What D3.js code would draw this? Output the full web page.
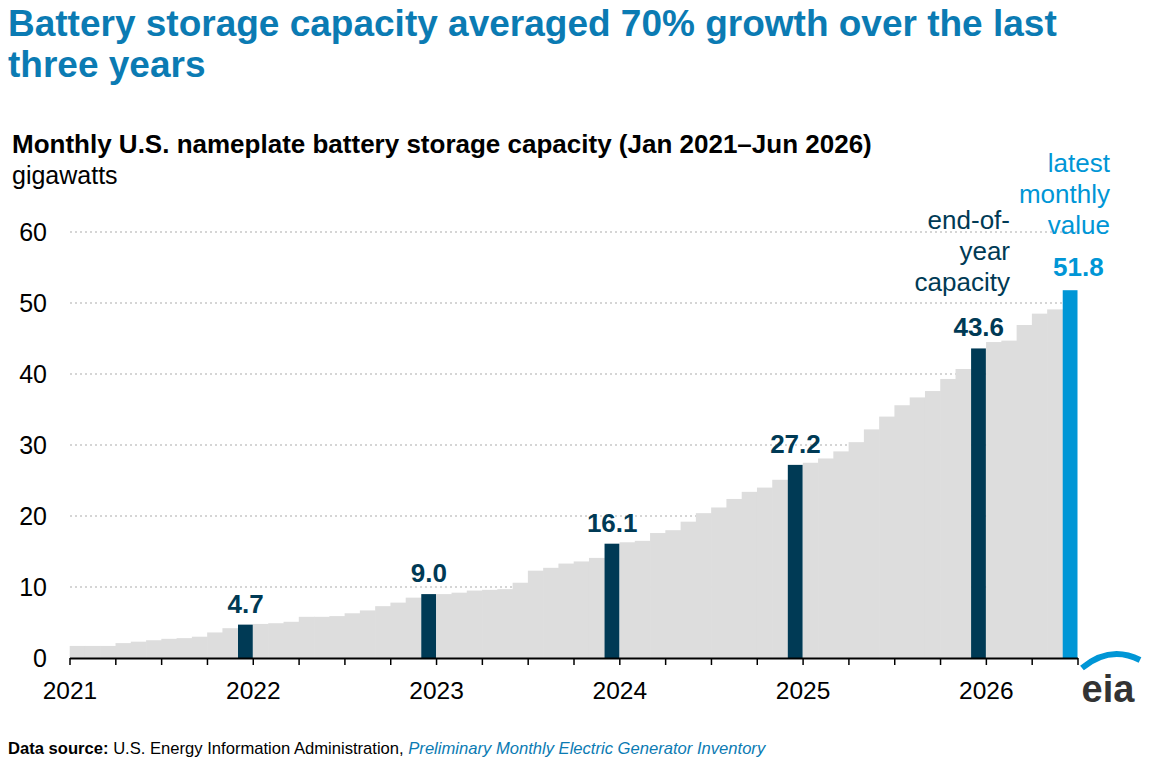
<!DOCTYPE html>
<html><head><meta charset="utf-8">
<script src="https://cdn.jsdelivr.net/npm/d3@7"></script>
<style>body{margin:0;background:#fff}text{font-family:"Liberation Sans",Arial,sans-serif}</style>
</head><body><svg id="c" width="1157" height="771"></svg>
<script>
const yearLabels=["2021","2022","2023","2024","2025","2026"];
const values2021=[1.7,1.7,1.7,2.1,2.3,2.5,2.7,2.8,3.0,3.6,4.2,4.7];
const values2022=[4.8,4.9,5.1,5.8,5.8,5.9,6.3,6.7,7.3,7.8,8.5,9.0];
const values2023=[9.0,9.2,9.5,9.6,9.7,10.6,12.3,12.7,13.3,13.6,14.1,16.1];
const values2024=[16.3,16.5,17.6,18.0,19.2,20.4,21.2,22.4,23.4,24.0,25.1,27.2];
const values2025=[27.5,28.1,29.1,30.4,32.2,34.0,35.6,36.7,37.6,39.3,40.7,43.6];
const values2026=[44.5,44.7,46.9,48.5,49.1,51.8];
const yTicks=[0,10,20,30,40,50,60];
const values=[...values2021,...values2022,...values2023,...values2024,...values2025,...values2026];
const data=values.map((v,i)=>({i,v,m:i%12}));
const svg=d3.select("#c");
const x=d3.scaleLinear().domain([0,66]).range([70,1078]);
const y=d3.scaleLinear().domain([0,60]).range([658,232]);
svg.append("text").attr("x",8).attr("y",36).attr("font-size",37).attr("font-weight","bold").attr("fill","#0b7bb3").text("Battery storage capacity averaged 70% growth over the last");
svg.append("text").attr("x",8).attr("y",77).attr("font-size",37).attr("font-weight","bold").attr("fill","#0b7bb3").text("three years");
svg.append("text").attr("x",12).attr("y",153).attr("font-size",26).attr("font-weight","bold").attr("fill","#000").text("Monthly U.S. nameplate battery storage capacity (Jan 2021\u2013Jun 2026)");
svg.append("text").attr("x",12).attr("y",184).attr("font-size",25).attr("fill","#000").text("gigawatts");
svg.append("g").selectAll("line").data(yTicks.filter(d=>d>0)).join("line")
 .attr("x1",70).attr("x2",1078).attr("y1",d=>y(d)).attr("y2",d=>y(d))
 .attr("stroke","#c8c8c8").attr("stroke-dasharray","2,3").attr("stroke-width",1.3);
svg.append("g").selectAll("text").data(yTicks).join("text")
 .attr("x",47).attr("y",d=>y(d)+9).attr("text-anchor","end").attr("font-size",25).attr("fill","#000").text(d=>d);
const dark=d=>d.m===11||d.i===65;
const col=d=>d.i===65?"#0096d6":(d.m===11?"#003a55":"#dddddd");
svg.append("g").selectAll("rect").data(data.filter(d=>!dark(d))).join("rect")
 .attr("x",d=>x(d.i)-0.3).attr("width",x(1)-x(0)+0.6)
 .attr("y",d=>y(d.v)).attr("height",d=>y(0)-y(d.v)).attr("fill",col);
svg.append("g").selectAll("rect").data(data.filter(dark)).join("rect")
 .attr("x",d=>x(d.i)).attr("width",x(1)-x(0)-0.5).attr("y",d=>y(d.v)).attr("height",d=>y(0)-y(d.v)).attr("fill",col);
svg.append("g").selectAll("text").data(data.filter(d=>d.m===11)).join("text")
 .attr("x",d=>x(d.i+0.5)).attr("y",d=>y(d.v)-12).attr("text-anchor","middle").attr("font-size",26).attr("font-weight","bold").attr("fill","#003a55").text(d=>d.v.toFixed(1));
const last=data[65];
svg.append("text").attr("x",x(65.5)+8).attr("y",y(last.v)-14).attr("text-anchor","middle").attr("font-size",26).attr("font-weight","bold").attr("fill","#0096d6").text(last.v.toFixed(1));
[["latest",172],["monthly",203],["value",234]].forEach(([t,yy])=>svg.append("text").attr("x",1110).attr("y",yy).attr("text-anchor","end").attr("font-size",26).attr("fill","#0096d6").text(t));
[["end-of-",229],["year",260],["capacity",291]].forEach(([t,yy])=>svg.append("text").attr("x",1010).attr("y",yy).attr("text-anchor","end").attr("font-size",26).attr("fill","#003a55").text(t));
svg.append("line").attr("x1",70).attr("x2",1078).attr("y1",658.5).attr("y2",658.5).attr("stroke","#000").attr("stroke-width",2);
svg.append("g").selectAll("line").data(d3.range(0,67,3)).join("line")
 .attr("x1",d=>x(d)).attr("x2",d=>x(d)).attr("y1",658).attr("y2",665).attr("stroke","#000").attr("stroke-width",1.5);
svg.append("g").selectAll("text").data(yearLabels).join("text")
 .attr("x",(d,i)=>x(i*12)).attr("y",699).attr("text-anchor","middle").attr("font-size",24.5).attr("fill","#000").text(d=>d);
svg.append("path").attr("d","M1082,668 Q1110,645 1140,660").attr("fill","none").attr("stroke","#0096d6").attr("stroke-width",6);
svg.append("text").attr("x",1108).attr("y",702).attr("text-anchor","middle").attr("font-size",38).attr("font-weight","bold").attr("fill","#333").text("eia");
const f=svg.append("text").attr("x",8).attr("y",754).attr("font-size",16.6);
f.append("tspan").attr("font-weight","bold").text("Data source: ");
f.append("tspan").text("U.S. Energy Information Administration, ");
f.append("tspan").attr("font-style","italic").attr("fill","#0b7bb3").text("Preliminary Monthly Electric Generator Inventory");
</script></body></html>
